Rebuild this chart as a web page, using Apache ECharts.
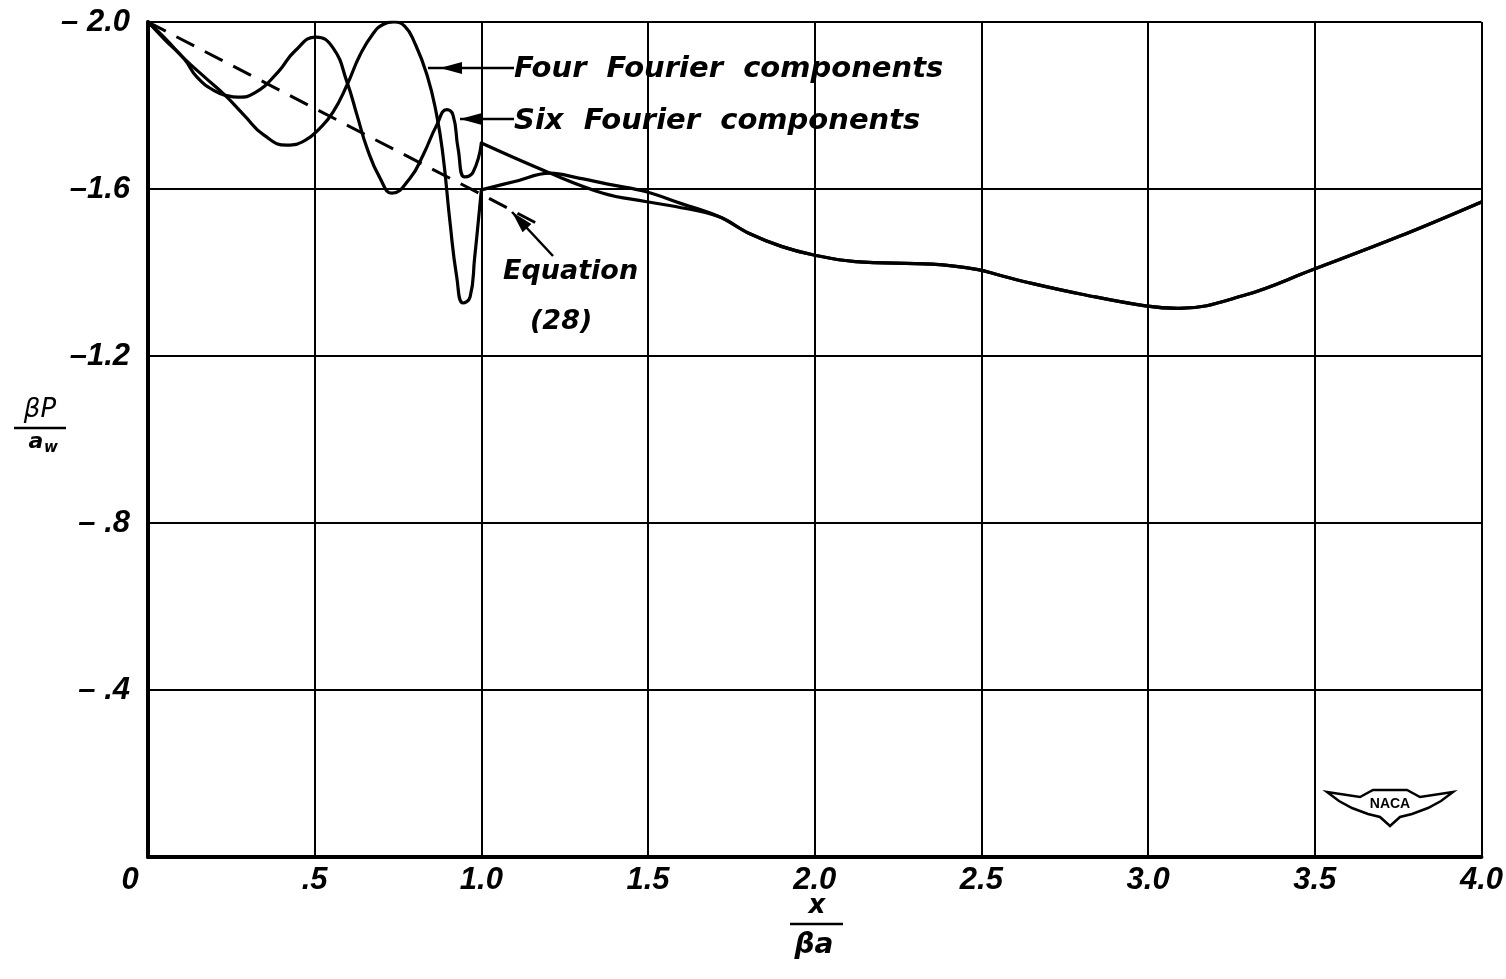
<!DOCTYPE html>
<html>
<head>
<meta charset="utf-8">
<script src="https://cdn.jsdelivr.net/npm/echarts@6/dist/echarts.min.js"></script>
<style>
html,body{margin:0;padding:0;background:#fff;}
#chart{width:1506px;height:979px;}
</style>
</head>
<body>
<div id="chart"></div>
<script>
// ---- data (x = x/(beta a), y = beta P / a_w) ----
const xTickLabels = ['0', '.5', '1.0', '1.5', '2.0', '2.5', '3.0', '3.5', '4.0'];
const yTickLabels = ['\u2013 2.0', '\u20131.6', '\u20131.2', '\u2013 .8', '\u2013 .4', ''];

// Four Fourier components, up to the cusp at x = 1.0
const fourA = [[0,-2.0],[0.05,-1.962],[0.108,-1.913],[0.17,-1.868],[0.233,-1.823],[0.288,-1.777],[0.348,-1.729],
  [0.417,-1.705],[0.47,-1.716],[0.516,-1.746],[0.555,-1.784],[0.597,-1.849],[0.636,-1.921],[0.675,-1.972],
  [0.705,-1.994],[0.738,-2.0],[0.77,-1.99],[0.8,-1.95],[0.837,-1.873],[0.866,-1.777],[0.885,-1.68],[0.906,-1.52],
  [0.926,-1.39],[0.945,-1.327],[0.966,-1.341],[0.98,-1.437],[0.993,-1.54],[1.0,-1.598]];
// Four Fourier components, from x = 1.0 until it joins the common tail
const fourB = [[1.0,-1.598],[1.1,-1.618],[1.206,-1.638],[1.292,-1.626],[1.392,-1.61],[1.492,-1.594],[1.6,-1.565]];

// Six Fourier components, up to the corner at x = 1.0
const sixA = [[0,-2.0],[0.05,-1.958],[0.108,-1.912],[0.147,-1.868],[0.2,-1.835],[0.24,-1.823],[0.27,-1.82],
  [0.32,-1.83],[0.39,-1.88],[0.44,-1.93],[0.504,-1.964],[0.555,-1.938],[0.597,-1.856],[0.627,-1.777],
  [0.657,-1.698],[0.696,-1.626],[0.732,-1.59],[0.786,-1.626],[0.825,-1.681],[0.866,-1.753],[0.896,-1.79],
  [0.915,-1.777],[0.93,-1.698],[0.95,-1.629],[0.975,-1.64],[1.0,-1.71]];
// Six Fourier components, from x = 1.0 until it joins the common tail
const sixB = [[1.0,-1.71],[1.206,-1.638],[1.365,-1.59],[1.492,-1.57],[1.582,-1.558]];

// common part of both curves
const tail = [[1.712,-1.534],[1.802,-1.494],[1.902,-1.462],[1.997,-1.442],[2.122,-1.426],[2.352,-1.42],
  [2.49,-1.407],[2.552,-1.394],[2.651,-1.374],[2.801,-1.348],[2.992,-1.32],[3.091,-1.314],
  [3.291,-1.346],[3.491,-1.406],[3.752,-1.486],[4.0,-1.569]];

// Equation (28)
const equation28 = [[0,-2.0],[0.5,-1.793],[1.0,-1.587],[1.18,-1.512]];

// ---- chart ----
const chart = echarts.init(document.getElementById('chart'), null, {renderer: 'canvas'});
const tickFont = 'Liberation Sans';
const curveStyle = {color: '#000', width: 3.2, join: 'round', cap: 'round'};
function curve(name, data, smooth) {
  return {type: 'line', name: name, data: data, showSymbol: false, symbol: 'none',
    smooth: smooth, lineStyle: curveStyle, silent: true, z: 5};
}
const annFont = 'italic bold 29px "DejaVu Sans"';
function arrowHead(tipX, tipY, dx, dy, len, half) {
  const n = Math.hypot(dx, dy), ux = dx / n, uy = dy / n;
  const bx = tipX - ux * len, by = tipY - uy * len;
  return {type: 'polygon', shape: {points: [[tipX, tipY], [bx - uy * half, by + ux * half], [bx + uy * half, by - ux * half]]},
    style: {fill: '#000'}, z: 20};
}

const option = {
  backgroundColor: '#fff',
  animation: false,
  grid: {left: 148, right: 24, top: 22, bottom: 122, containLabel: false},
  xAxis: {
    type: 'value', min: 0, max: 4, interval: 0.5,
    axisLine: {show: true, onZero: false, lineStyle: {color: '#000', width: 4}},
    axisTick: {show: false},
    splitLine: {show: true, lineStyle: {color: '#000', width: 2}},
    axisLabel: {
      margin: 8, color: '#000',
      fontFamily: tickFont, fontStyle: 'italic', fontWeight: 'bold', fontSize: 31,
      formatter: function (v) {
        const i = Math.round(v / 0.5);
        return i === 0 ? '{z|' + xTickLabels[i] + '}' : xTickLabels[i];
      },
      rich: {z: {fontFamily: tickFont, fontStyle: 'italic', fontWeight: 'bold', fontSize: 31, padding: [0, 36, 0, 0]}}
    }
  },
  yAxis: {
    type: 'value', min: -2, max: 0, interval: 0.4, inverse: true,
    axisLine: {show: true, onZero: false, lineStyle: {color: '#000', width: 4}},
    axisTick: {show: false},
    splitLine: {show: true, lineStyle: {color: '#000', width: 2}},
    axisLabel: {
      margin: 18, color: '#000',
      fontFamily: tickFont, fontStyle: 'italic', fontWeight: 'bold', fontSize: 31,
      formatter: function (v) { return yTickLabels[Math.round((v + 2) / 0.4)]; }
    }
  },
  series: [
    curve('Four Fourier components', fourA, 0.5),
    curve('Four Fourier components', fourB.concat(tail), 0.4),
    curve('Six Fourier components', sixA, 0.5),
    curve('Six Fourier components', sixB.concat(tail), 0.4),
    {type: 'line', name: 'Equation (28)', data: equation28, showSymbol: false, symbol: 'none',
      lineStyle: {color: '#000', width: 3, type: [20, 12]}, silent: true, z: 4}
  ],
  graphic: [
    // annotations
    {type: 'text', x: 514, y: 69, style: {text: 'Four  Fourier  components', font: annFont, fill: '#000', verticalAlign: 'middle'}, z: 20},
    {type: 'line', shape: {x1: 514, y1: 68, x2: 428, y2: 68}, style: {stroke: '#000', lineWidth: 2.5}, z: 20},
    arrowHead(440, 68, -1, 0, 22, 6),
    {type: 'text', x: 514, y: 121, style: {text: 'Six  Fourier  components', font: annFont, fill: '#000', verticalAlign: 'middle'}, z: 20},
    {type: 'line', shape: {x1: 514, y1: 119, x2: 460, y2: 119}, style: {stroke: '#000', lineWidth: 2.5}, z: 20},
    arrowHead(460, 119, -1, 0, 22, 6),
    {type: 'text', x: 503, y: 272, style: {text: 'Equation', font: 'italic bold 27px "DejaVu Sans"', fill: '#000', verticalAlign: 'middle'}, z: 20},
    {type: 'text', x: 530, y: 322, style: {text: '(28)', font: 'italic bold 27px "DejaVu Sans"', fill: '#000', verticalAlign: 'middle'}, z: 20},
    {type: 'line', shape: {x1: 553, y1: 256, x2: 512, y2: 212}, style: {stroke: '#000', lineWidth: 2.5}, z: 20},
    arrowHead(512, 212, -41, -44, 22, 6),
    // y-axis name: beta P / a_w
    {type: 'text', x: 40, y: 410, style: {text: '\u03b2P', font: 'italic 26px "DejaVu Sans"', fill: '#000', align: 'center', verticalAlign: 'middle'}, z: 20},
    {type: 'line', shape: {x1: 14, y1: 428, x2: 66, y2: 428}, style: {stroke: '#000', lineWidth: 2.5}, z: 20},
    {type: 'text', x: 36, y: 442, style: {text: 'a', font: 'italic bold 22px "DejaVu Sans"', fill: '#000', align: 'center', verticalAlign: 'middle'}, z: 20},
    {type: 'text', x: 51, y: 448, style: {text: 'w', font: 'italic bold 15px "DejaVu Sans"', fill: '#000', align: 'center', verticalAlign: 'middle'}, z: 20},
    // x-axis name: x / beta a
    {type: 'text', x: 817, y: 906, style: {text: 'x', font: 'italic bold 26px "DejaVu Sans"', fill: '#000', align: 'center', verticalAlign: 'middle'}, z: 20},
    {type: 'line', shape: {x1: 790, y1: 924, x2: 843, y2: 924}, style: {stroke: '#000', lineWidth: 2.5}, z: 20},
    {type: 'text', x: 814, y: 946, style: {text: '\u03b2a', font: 'italic bold 28px "DejaVu Sans"', fill: '#000', align: 'center', verticalAlign: 'middle'}, z: 20},
    // NACA wing emblem
    {type: 'polygon', shape: {points: [[1327,792],[1360,797],[1373,790],[1407,790],[1420,797],[1453,792],
      [1441,801],[1428,808],[1412,814],[1400,817],[1390,826],[1380,817],[1368,814],[1352,808],[1339,801]]},
      style: {fill: '#fff', stroke: '#000', lineWidth: 2.5}, z: 20},
    {type: 'text', x: 1390, y: 804, style: {text: 'NACA', font: 'bold 14px "Liberation Sans"', fill: '#000', align: 'center', verticalAlign: 'middle'}, z: 21}
  ]
};
chart.setOption(option);
</script>
</body>
</html>
